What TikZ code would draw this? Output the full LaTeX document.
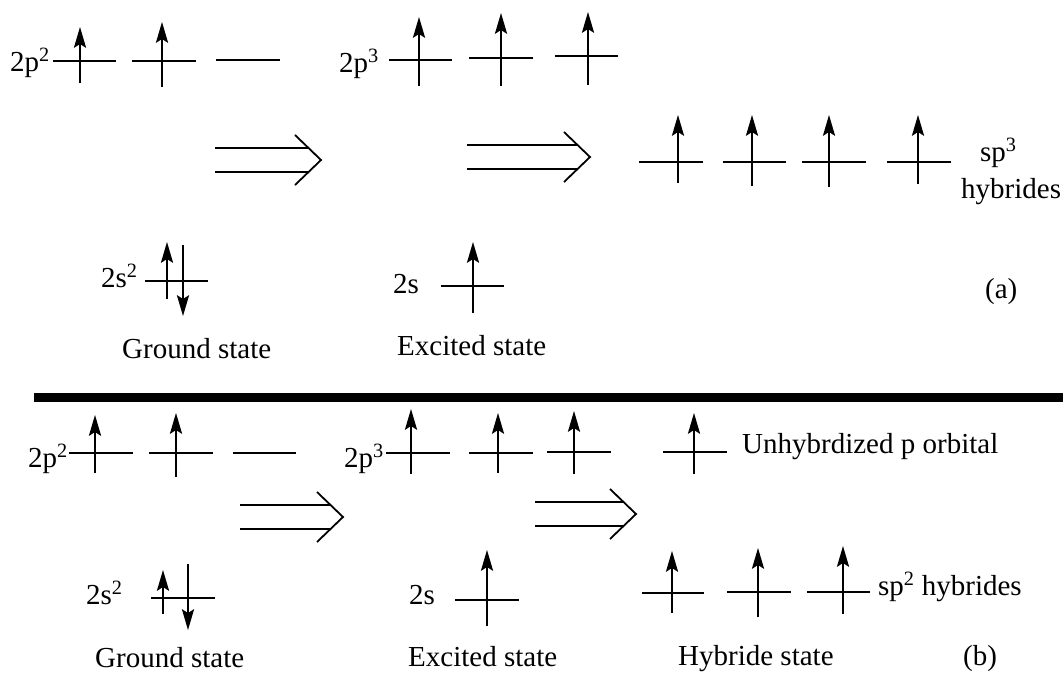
\documentclass[tikz,border=0pt]{standalone}
\usepackage{fontspec}
\setmainfont{Liberation Serif}
\newcommand\lev[3]{\draw[lvl] (#1,#3) -- (#2,#3);}
\newcommand\spin[3]{\draw[spinline] (#1,#2) -- (#1,#3+12);
  \fill[spinhead] (#1,#3) -- (#1-6.2,#3+21) -- (#1,#3+17) -- (#1+6.2,#3+21) -- cycle;}
\newcommand\spindown[3]{\draw[spinline] (#1,#2) -- (#1,#3-12);
  \fill[spinhead] (#1,#3) -- (#1-6.2,#3-21) -- (#1,#3-17) -- (#1+6.2,#3-21) -- cycle;}
\newcommand\dimp[3]{%
  \draw[dbl] (#1,#3-12) -- (#2-13,#3-12);
  \draw[dbl] (#1,#3+12) -- (#2-13,#3+12);
  \draw[dbl] (#2-26,#3-25) -- (#2,#3) -- (#2-26,#3+25);}
\begin{document}
\begin{tikzpicture}[x=1pt,y=-1pt,
  lvl/.style={line width=1.7pt},
  spinline/.style={line width=2.6pt},
  spinhead/.style={black, line join=miter},
  dbl/.style={line width=1.8pt},
  lbl/.style={font=\fontsize{29}{33}\selectfont, inner sep=0pt, anchor=base west}]
\useasboundingbox (0,0) rectangle (1063,673);
% ---------- (a) ----------
\node[lbl] (a2p) at (10,71) {2p\textsuperscript{2}};
\lev{53}{116}{61} \lev{132}{196}{61} \lev{216}{280}{60}
\spin{80}{83}{27} \spin{162}{87}{22}
\node[lbl] (a2p3) at (339,72) {2p\textsuperscript{3}};
\lev{389}{452}{60} \lev{469}{533}{58} \lev{555}{618}{56}
\spin{419}{86}{17} \spin{501}{86}{13} \spin{588}{85}{12}
\dimp{215}{321}{160}
\dimp{467}{590}{157}
\lev{639}{703}{162} \lev{723}{786}{162} \lev{802}{866}{162} \lev{887}{951}{162}
\spin{678}{183}{115} \spin{752}{186}{115} \spin{829}{187}{115} \spin{918}{184}{115}
\node[lbl] (asp3) at (980,161) {sp\textsuperscript{3}};
\node[lbl] (ahyb) at (961,198) {hybrides};
\node[lbl] (a2s2) at (101,287) {2s\textsuperscript{2}};
\lev{145}{208}{281}
\spin{167}{299}{242}
\spindown{183}{245}{316}
\node[lbl] (a2s) at (393,293) {2s};
\lev{441}{504}{286}
\spin{473}{313}{242}
\node[lbl] (aground) at (122,358) {Ground state};
\node[lbl] (aexc) at (397,355) {Excited state};
\node[lbl] (alab) at (985,298) {(a)};
% ---------- separator ----------
\draw[line width=9pt] (34,397.5) -- (1063,397.5);
% ---------- (b) ----------
\node[lbl] (b2p) at (28,467) {2p\textsuperscript{2}};
\lev{69}{133}{453} \lev{149}{213}{453} \lev{233}{296}{453}
\spin{95}{473}{415} \spin{176}{477}{413}
\node[lbl] (b2p3) at (344,467) {2p\textsuperscript{3}};
\lev{386}{450}{453} \lev{469}{533}{453} \lev{547}{611}{452}
\spin{411}{474}{409} \spin{498}{473}{413} \spin{574}{474}{411}
\lev{663}{727}{452}
\spin{694}{474}{413}
\node[lbl] (bunh) at (742,453) {Unhybrdized p orbital};
\dimp{240}{343}{517}
\dimp{535}{636}{514}
\lev{642}{704}{593} \lev{727}{791}{592} \lev{807}{870}{592}
\spin{672}{613}{551} \spin{758}{617}{548} \spin{843}{614}{546}
\node[lbl] (bsp2) at (878,595) {sp\textsuperscript{2} hybrides};
\node[lbl] (b2s2) at (86,604) {2s\textsuperscript{2}};
\lev{151}{215}{598}
\spin{163}{614}{570}
\spindown{188}{564}{630}
\node[lbl] (b2s) at (409,604) {2s};
\lev{455}{519}{600}
\spin{487}{626}{550}
\node[lbl] (bground) at (95,667) {Ground state};
\node[lbl] (bexc) at (408,666) {Excited state};
\node[lbl] (bhyb) at (678,665) {Hybride state};
\node[lbl] (blab) at (963,665) {(b)};
\end{tikzpicture}
\end{document}
